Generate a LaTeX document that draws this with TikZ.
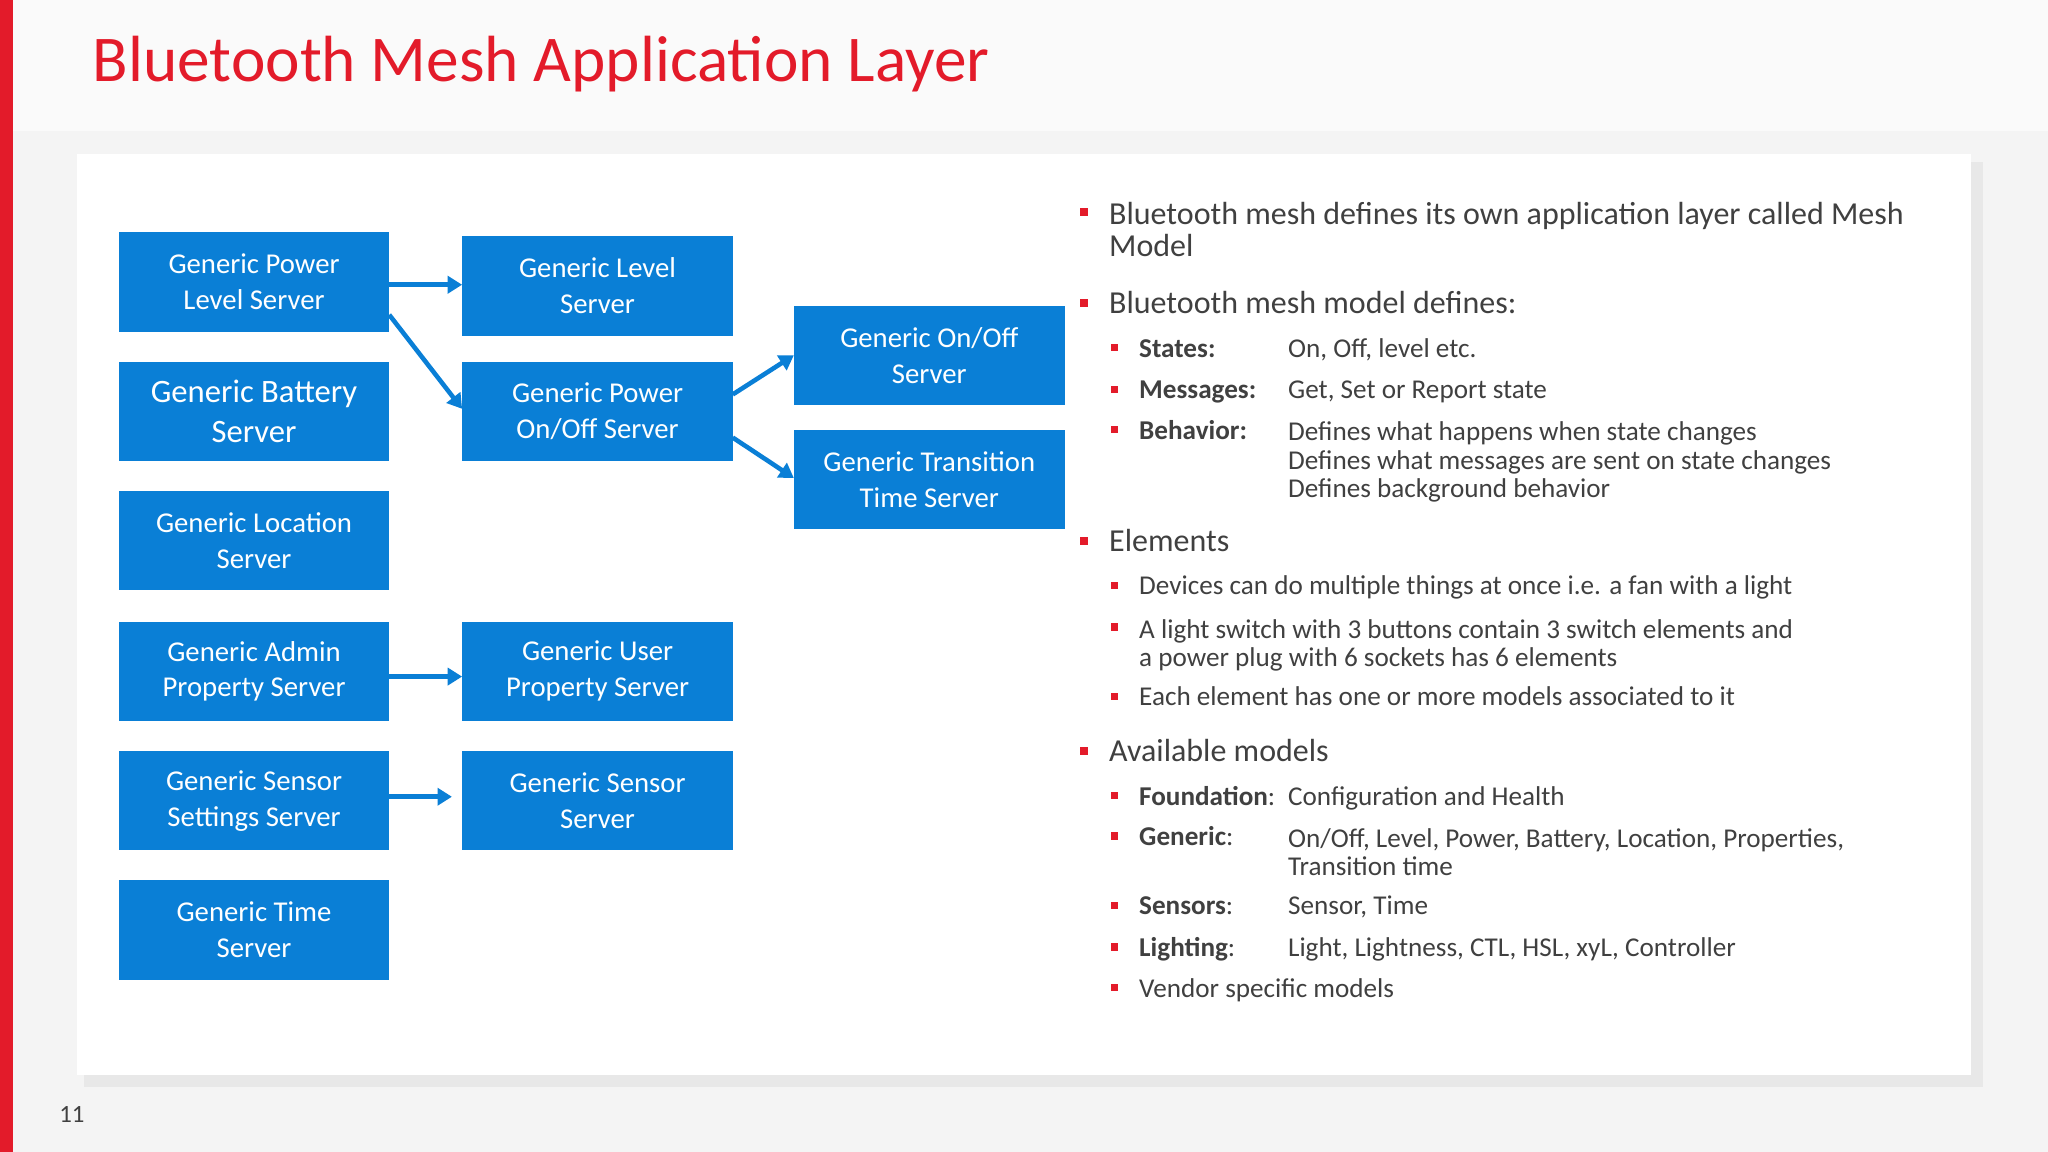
\documentclass[tikz,border=0pt]{standalone}
\usepackage{fontspec}
\setmainfont{Carlito}
\usetikzlibrary{arrows.meta}
\definecolor{mblue}{HTML}{0A7FD6}
\definecolor{mred}{HTML}{E31B2A}
\definecolor{tgray}{HTML}{404040}
\begin{document}
\begin{tikzpicture}[x=1pt,y=-1pt,
 box/.style={fill=mblue,text=white,minimum width=207pt,minimum height=76pt,inner sep=2pt,align=center,font=\fontsize{22}{27.5}\selectfont},
 arr/.style={draw=mblue,line width=3.5pt,-{Triangle[length=11pt,width=13pt]}},
 l1/.style={anchor=mid west,text=tgray,font=\fontsize{24.5}{25}\selectfont,inner sep=0},
 l2/.style={anchor=mid west,text=tgray,font=\fontsize{20.8}{22}\selectfont,inner sep=0},
 b1/.style={fill=mred,minimum size=6pt,inner sep=0},
 b2/.style={fill=mred,minimum size=5.5pt,inner sep=0}]
\useasboundingbox (0,0) rectangle (1568,882);
\fill[gray!9] (0,0) rectangle (1568,882);
\fill[gray!4] (0,0) rectangle (1568,100);
\fill[gray!18] (64,124) rectangle (1518,832);
\fill[white] (59,118) rectangle (1509,823);
\fill[mred] (0,0) rectangle (10,882);
\node[anchor=mid west,text=mred,font=\fontsize{50}{56}\selectfont,inner sep=0] (title) at (71,60) {Bluetooth Mesh Application Layer};
\node[text=tgray,font=\fontsize{19}{20}\selectfont] (pn) at (55,853) {11};
% boxes
\node[box] (pl) at (194.5,216) {Generic Power\\Level Server};
\node[box,font=\fontsize{25}{31}\selectfont] (bat) at (194.5,315) {Generic Battery\\Server};
\node[box] (loc) at (194.5,414) {Generic Location\\Server};
\node[box] (adm) at (194.5,514) {Generic Admin\\Property Server};
\node[box] (sset) at (194.5,613) {Generic Sensor\\Settings Server};
\node[box] (time) at (194.5,712) {Generic Time\\Server};
\node[box] (lvl) at (457.5,219) {Generic Level\\Server};
\node[box] (poo) at (457.5,315) {Generic Power\\On/Off Server};
\node[box] (usr) at (457.5,514) {Generic User\\Property Server};
\node[box] (sen) at (457.5,613) {Generic Sensor\\Server};
\node[box] (oo) at (711.5,272) {Generic On/Off\\Server};
\node[box] (tt) at (711.5,367) {Generic Transition\\Time Server};
% arrows
\draw[arr] (pl.east |- 0,218) -- (lvl.west |- 0,218);
\draw[arr] (298,241) -- (poo.west |- 0,313);
\draw[arr] (561,302) -- (oo.west |- 0,272);
\draw[arr] (561,335) -- (tt.west |- 0,366);
\draw[arr] (adm.east |- 0,518) -- (usr.west |- 0,518);
\draw[arr] (sset.east |- 0,610) -- (346,610);
% bullets
\node[b1] (q1) at (830,162) {};
\node[l1,anchor=north west] (t1) at (849,154) {\begin{tabular}{@{}l@{}}Bluetooth mesh defines its own application layer called Mesh\\[0pt]Model\end{tabular}};
\node[b1] (q2) at (830,232) {};
\node[l1] (t2) at (849,238) {Bluetooth mesh model defines:};
\node[b2] (q3) at (853,266) {}; \node[l2] (t3) at (872,271) {\textbf{States:}}; \node[l2] (v3) at (986,271) {On, Off, level etc.};
\node[b2] (q4) at (853,298) {}; \node[l2] (t4) at (872,303) {\textbf{Messages:}}; \node[l2] (v4) at (986,303) {Get, Set or Report state};
\node[b2] (q5) at (853,329) {}; \node[l2] (t5) at (872,334) {\textbf{Behavior:}};
\node[l2,anchor=north west] (v5) at (986,322) {\begin{tabular}{@{}l@{}}Defines what happens when state changes\\[-0.5pt]Defines what messages are sent on state changes\\[-0.5pt]Defines background behavior\end{tabular}};
\node[b1] (q6) at (830,414) {}; \node[l1] (t6) at (849,420) {Elements};
\node[b2] (q7) at (853,448) {}; \node[l2] (t7) at (872,453) {Devices can do multiple things at once i.e. a fan with a light};
\node[b2] (q8) at (853,480) {}; \node[l2,anchor=north west] (t8) at (872,473) {\begin{tabular}{@{}l@{}}A light switch with 3 buttons contain 3 switch elements and\\[-0.5pt]a power plug with 6 sockets has 6 elements\end{tabular}};
\node[b2] (q9) at (853,533) {}; \node[l2] (t9) at (872,538) {Each element has one or more models associated to it};
\node[b1] (q10) at (830,575) {}; \node[l1] (t10) at (849,581) {Available models};
\node[b2] (q11) at (853,609) {}; \node[l2] (t11) at (872,614) {\textbf{Foundation}:}; \node[l2] (v11) at (986,614) {Configuration and Health};
\node[b2] (q12) at (853,640) {}; \node[l2] (t12) at (872,645) {\textbf{Generic}:};
\node[l2,anchor=north west] (v12) at (986,633) {\begin{tabular}{@{}l@{}}On/Off, Level, Power, Battery, Location, Properties,\\[-0.5pt]Transition time\end{tabular}};
\node[b2] (q13) at (853,693) {}; \node[l2] (t13) at (872,698) {\textbf{Sensors}:}; \node[l2] (v13) at (986,698) {Sensor, Time};
\node[b2] (q14) at (853,725) {}; \node[l2] (t14) at (872,730) {\textbf{Lighting}:}; \node[l2] (v14) at (986,730) {Light, Lightness, CTL, HSL, xyL, Controller};
\node[b2] (q15) at (853,756) {}; \node[l2] (t15) at (872,761) {Vendor specific models};
\end{tikzpicture}
\end{document}
